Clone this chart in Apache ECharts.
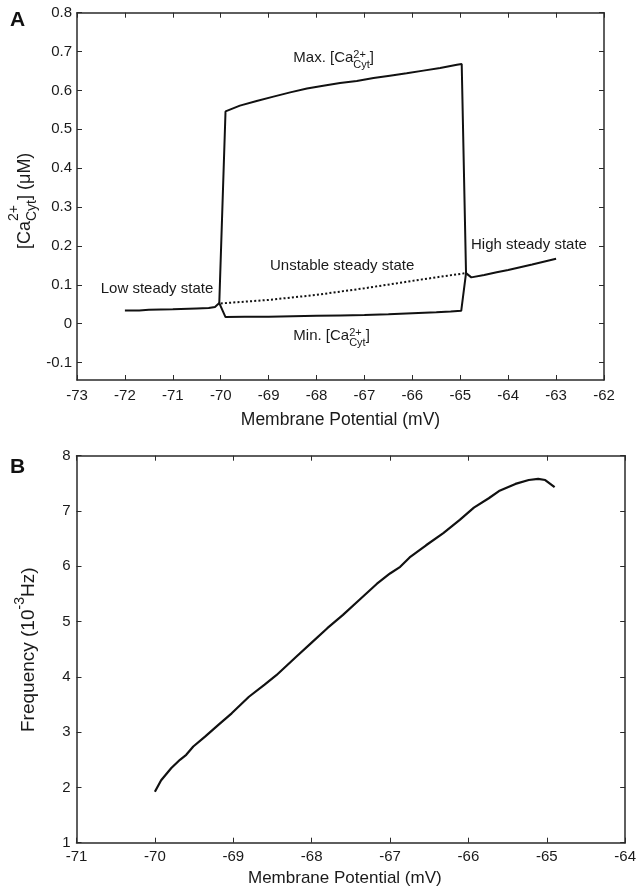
<!DOCTYPE html>
<html>
<head>
<meta charset="utf-8">
<script src="https://cdn.jsdelivr.net/npm/echarts@6/dist/echarts.min.js"></script>
<style>
html,body{margin:0;padding:0;background:#fff;}
#chart{width:639px;height:892px;}
</style>
</head>
<body>
<div id="chart"></div>
<script>
// ---------- Panel A data (membrane potential mV, [Ca] uM) ----------
const lowX = [-72.0, -71.7, -71.5, -71.0, -70.5, -70.25, -70.12, -70.03];
const lowY = [0.034, 0.034, 0.036, 0.037, 0.039, 0.040, 0.043, 0.053];

const maxX = [-70.03, -69.90, -69.60, -69.25, -68.90, -68.55, -68.20, -67.86, -67.51, -67.16, -66.81, -66.47, -66.12, -65.77, -65.42, -65.07, -64.97, -64.88];
const maxY = [0.053, 0.546, 0.561, 0.573, 0.584, 0.595, 0.605, 0.612, 0.619, 0.624, 0.632, 0.638, 0.644, 0.651, 0.658, 0.666, 0.668, 0.130];

const minX = [-70.03, -69.90, -69.50, -69.00, -68.50, -68.00, -67.50, -67.00, -66.50, -66.00, -65.50, -65.20, -64.98, -64.88];
const minY = [0.053, 0.017, 0.018, 0.018, 0.019, 0.020, 0.021, 0.022, 0.024, 0.027, 0.029, 0.031, 0.033, 0.130];

const unstableX = [-70.0, -69.0, -68.0, -67.0, -66.0, -65.4, -64.88];
const unstableY = [0.052, 0.061, 0.074, 0.091, 0.110, 0.121, 0.130];

const highX = [-64.88, -64.77, -64.50, -64.24, -64.00, -63.50, -63.00];
const highY = [0.130, 0.119, 0.125, 0.132, 0.138, 0.152, 0.167];

// ---------- Panel B data (membrane potential mV, frequency 10^-3 Hz) ----------
const freqX = [-70.0, -69.92, -69.79, -69.68, -69.6, -69.51, -69.36, -69.19, -69.02, -68.8, -68.6, -68.45, -68.2, -68.0, -67.8, -67.6, -67.4, -67.17, -67.0, -66.87, -66.75, -66.54, -66.32, -66.11, -65.93, -65.74, -65.61, -65.4, -65.23, -65.11, -65.02, -64.9];
const freqY = [1.92, 2.13, 2.35, 2.50, 2.59, 2.74, 2.92, 3.13, 3.34, 3.64, 3.86, 4.03, 4.36, 4.62, 4.88, 5.12, 5.38, 5.68, 5.87, 5.99, 6.16, 6.38, 6.60, 6.84, 7.06, 7.23, 7.36, 7.49, 7.56, 7.58, 7.56, 7.43];

// ---------- Axis ticks ----------
const aXRange = [-73, -62];
const aYRange = [-0.145, 0.8];
const aYTicks = [-0.1, 0, 0.1, 0.2, 0.3, 0.4, 0.5, 0.6, 0.7, 0.8];
const bXRange = [-71, -64];
const bYRange = [1, 8];

function pairs(xs, ys) { return xs.map((x, i) => [x, ys[i]]); }

const FONT = '"Liberation Sans", Arial, Helvetica, sans-serif';
const INK = '#1a1a1a';
const AX = '#2a2a2a';

const mctx = document.createElement('canvas').getContext('2d');
function tw(s, fs) { mctx.font = fs + 'px "Liberation Sans"'; return mctx.measureText(s).width; }
function txt(x, y, s, fs, extra) {
  return { type: 'text', x: x, y: y, silent: true,
    style: Object.assign({ text: s, fontSize: fs, fontFamily: FONT, fill: INK, align: 'left', verticalAlign: 'middle' }, extra || {}) };
}
// prefix + stacked (sup over sub) + suffix, local coords: x from 0, y=0 is center line
function chem(prefix, sup, sub, suffix, fs, sfs, supDy, subDy) {
  const w1 = tw(prefix, fs);
  const ws = Math.max(sup ? tw(sup, sfs) : 0, sub ? tw(sub, sfs) : 0);
  const ch = [txt(0, 0, prefix, fs)];
  if (sup) ch.push(txt(w1, supDy, sup, sfs));
  if (sub) ch.push(txt(w1, subDy, sub, sfs));
  ch.push(txt(w1 + ws, 0, suffix, fs));
  return ch;
}

function axisBase(extra) {
  return Object.assign({
    type: 'value',
    splitLine: { show: false },
    axisLine: { show: true, onZero: false, lineStyle: { color: AX, width: 1.5 } },
    axisTick: { show: true, inside: true, length: 5, lineStyle: { color: AX, width: 1 } },
    axisLabel: { show: true, color: INK, fontSize: 15, fontFamily: FONT }
  }, extra);
}

const chart = echarts.init(document.getElementById('chart'), null, { renderer: 'canvas' });

const yTickFmt = v => String(+(+v).toFixed(1));

const option = {
  animation: false,
  backgroundColor: '#fff',
  grid: [
    { left: 77, top: 12.7, width: 527, height: 367.3 },
    { left: 76.5, top: 455.7, width: 554.5, height: 387 }
  ],
  xAxis: [
    axisBase({ gridIndex: 0, position: 'bottom', min: aXRange[0], max: aXRange[1], interval: 1,
      axisLabel: { color: INK, fontSize: 15, fontFamily: FONT, margin: 8 } }),
    axisBase({ gridIndex: 0, position: 'top', min: aXRange[0], max: aXRange[1], interval: 1,
      axisLabel: { show: false } }),
    axisBase({ gridIndex: 1, position: 'bottom', min: bXRange[0], max: bXRange[1], interval: 1,
      axisLabel: { color: INK, fontSize: 15, fontFamily: FONT, margin: 7 } }),
    axisBase({ gridIndex: 1, position: 'top', min: bXRange[0], max: bXRange[1], interval: 1,
      axisLabel: { show: false } })
  ],
  yAxis: [
    axisBase({ gridIndex: 0, position: 'left', min: aYRange[0], max: aYRange[1],
      axisTick: { show: true, inside: true, length: 5, customValues: aYTicks, lineStyle: { color: AX, width: 1 } },
      axisLabel: { show: true, customValues: aYTicks, formatter: yTickFmt, color: INK, fontSize: 15, fontFamily: FONT, margin: 5 } }),
    axisBase({ gridIndex: 0, position: 'right', min: aYRange[0], max: aYRange[1],
      axisTick: { show: true, inside: true, length: 5, customValues: aYTicks, lineStyle: { color: AX, width: 1 } },
      axisLabel: { show: false } }),
    axisBase({ gridIndex: 1, position: 'left', min: bYRange[0], max: bYRange[1], interval: 1,
      axisLabel: { color: INK, fontSize: 15, fontFamily: FONT, margin: 6 } }),
    axisBase({ gridIndex: 1, position: 'right', min: bYRange[0], max: bYRange[1], interval: 1,
      axisLabel: { show: false } })
  ],
  series: [
    { name: 'Low steady state', type: 'line', xAxisIndex: 0, yAxisIndex: 0, data: pairs(lowX, lowY),
      showSymbol: false, lineStyle: { color: '#111', width: 2 } },
    { name: 'Max', type: 'line', xAxisIndex: 0, yAxisIndex: 0, data: pairs(maxX, maxY),
      showSymbol: false, lineStyle: { color: '#111', width: 2 } },
    { name: 'Min', type: 'line', xAxisIndex: 0, yAxisIndex: 0, data: pairs(minX, minY),
      showSymbol: false, lineStyle: { color: '#111', width: 2 } },
    { name: 'Unstable steady state', type: 'line', xAxisIndex: 0, yAxisIndex: 0, data: pairs(unstableX, unstableY),
      showSymbol: false, lineStyle: { color: '#111', width: 2, type: [2, 2.2] } },
    { name: 'High steady state', type: 'line', xAxisIndex: 0, yAxisIndex: 0, data: pairs(highX, highY),
      showSymbol: false, lineStyle: { color: '#111', width: 2 } },
    { name: 'Frequency', type: 'line', xAxisIndex: 2, yAxisIndex: 2, data: pairs(freqX, freqY),
      showSymbol: false, smooth: false, lineStyle: { color: '#111', width: 2.2 } }
  ],
  graphic: [
    txt(10, 20, 'A', 21, { fontWeight: 'bold', fill: '#111' }),
    txt(10, 467, 'B', 21, { fontWeight: 'bold', fill: '#111' }),
    // panel A annotations
    txt(100.7, 289, 'Low steady state', 15),
    txt(270, 266, 'Unstable steady state', 15),
    txt(471, 245, 'High steady state', 15),
    { type: 'group', x: 293.3, y: 57.7, children: chem('Max. [Ca', '2+', 'Cyt', ']', 15, 11, -3, 7.5) },
    { type: 'group', x: 293.3, y: 335.7, children: chem('Min. [Ca', '2+', 'Cyt', ']', 15, 11, -3, 7.5) },
    // panel A axis titles
    txt(340.5, 420, 'Membrane Potential (mV)', 17.5, { align: 'center' }),
    { type: 'group', x: 25, y: 249, rotation: Math.PI / 2, children: chem('[Ca', '2+', 'Cyt', '] (\u03bcM)', 18, 14, -11, 7) },
    // panel B axis titles
    txt(248, 878, 'Membrane Potential (mV)', 17),
    { type: 'group', x: 28.7, y: 732, rotation: Math.PI / 2, children: chem('Frequency (10', '-3', '', 'Hz)', 19, 14, -8.3, 0) }
  ]
};
chart.setOption(option);
</script>
</body>
</html>
